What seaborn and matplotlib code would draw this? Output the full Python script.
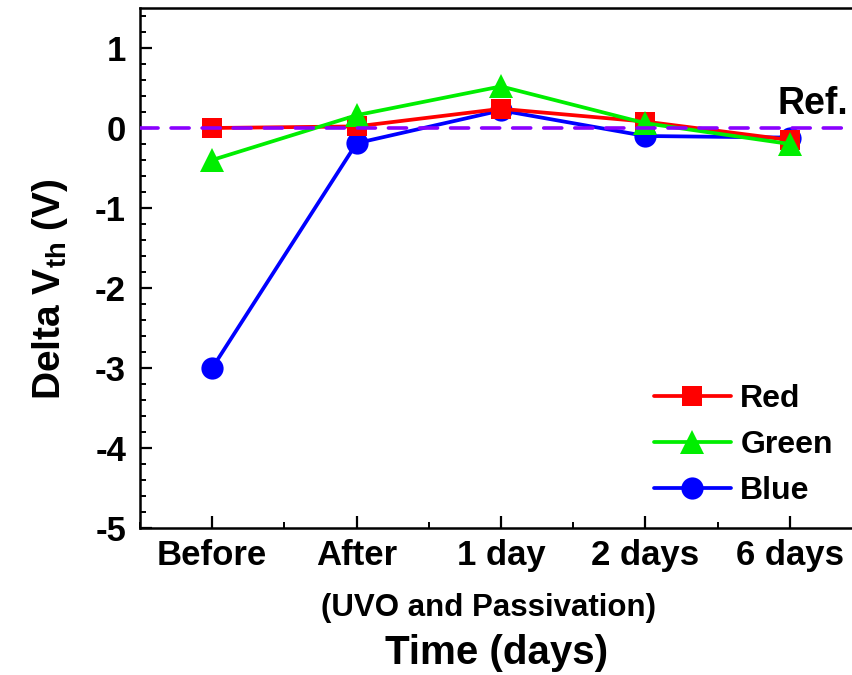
import matplotlib
matplotlib.use("Agg")
import matplotlib.pyplot as plt
import seaborn as sns
import pandas as pd
from matplotlib.ticker import MultipleLocator, AutoMinorLocator

categories = ["Before", "After", "1 day", "2 days", "6 days"]
red_vals = [0.0, 0.02, 0.24, 0.08, -0.15]
green_vals = [-0.40, 0.16, 0.52, 0.06, -0.20]
blue_vals = [-3.00, -0.19, 0.22, -0.10, -0.12]
series_names = ["Red", "Green", "Blue"]
ref_value = 0.0

sns.set_theme(style="ticks")
plt.rcParams["font.family"] = ["Liberation Sans", "DejaVu Sans"]
plt.rcParams["font.weight"] = "bold"
plt.rcParams["mathtext.fontset"] = "custom"
plt.rcParams["mathtext.rm"] = "Liberation Sans:bold"
plt.rcParams["mathtext.bf"] = "Liberation Sans:bold"
plt.rcParams["axes.unicode_minus"] = False
for k in ["text.color", "axes.labelcolor", "xtick.color", "ytick.color", "axes.edgecolor"]:
    plt.rcParams[k] = "black"

pos = list(range(1, len(categories) + 1))
df = pd.DataFrame({
    "x": pos * 3,
    "y": red_vals + green_vals + blue_vals,
    "series": [s for s in series_names for _ in pos],
})

fig = plt.figure(figsize=(8.52, 6.75), dpi=100)
ax = fig.add_axes([140 / 852, 1 - 528 / 675, 722 / 852, 520 / 675])

styles = {
    "Red": dict(color="#FF0000", marker="s", markersize=15, z=4),
    "Green": dict(color="#00EE00", marker="^", markersize=17, z=5),
    "Blue": dict(color="#0000FF", marker="o", markersize=16, z=3),
}
handles = {}
for name in ["Blue", "Red", "Green"]:
    st = styles[name]
    sub = df[df["series"] == name]
    sns.lineplot(data=sub, x="x", y="y", ax=ax, color=st["color"], marker=st["marker"],
                 markersize=st["markersize"], markeredgewidth=0, linewidth=2.7,
                 zorder=st["z"], label=name, legend=False)
    handles[name] = ax.lines[-1]

ax.axhline(ref_value, color="#8A00FF", linewidth=2.6, dashes=(5, 3.6),
           dash_capstyle="round", zorder=10)
ax.text(5.16, 0.07, "Ref.", fontsize=27, fontweight="bold", ha="center", va="bottom",
        clip_on=False)

ax.set_xlim(0.5, 5.5)
ax.set_ylim(-5, 1.5)
ax.set_xticks(pos)
ax.set_xticklabels(categories)
ax.xaxis.set_minor_locator(AutoMinorLocator(2))
ax.yaxis.set_major_locator(MultipleLocator(1))
ax.yaxis.set_minor_locator(MultipleLocator(0.2))
ax.tick_params(axis="both", which="major", direction="in", length=8.5, width=1.6,
               labelsize=25, top=False, right=False)
ax.tick_params(axis="both", which="minor", direction="in", length=4.5, width=1.4,
               top=False, right=False)
ax.tick_params(axis="x", which="major", pad=8)
ax.tick_params(axis="y", which="major", pad=10)
for lab in ax.get_xticklabels() + ax.get_yticklabels():
    lab.set_fontweight("bold")
for sp in ax.spines.values():
    sp.set_linewidth(1.8)
    sp.set_color("black")
ax.set_xlabel("")
ax.set_ylabel("")

fig.text(50 / 852, 1 - 289 / 675, r"Delta V$_{\mathrm{th}}$ (V)", rotation=90,
         fontsize=28, fontweight="bold", ha="center", va="center")
fig.text(488 / 852, 1 - 608 / 675, "(UVO and Passivation)", fontsize=22.5,
         fontweight="bold", ha="center", va="center")
fig.text(497 / 852, 1 - 653 / 675, "Time (days)", fontsize=29,
         fontweight="bold", ha="center", va="center")

leg = ax.legend([handles[n] for n in series_names], series_names, loc="lower right",
                bbox_to_anchor=((852 - 140) / 722, 0.005), frameon=False,
                fontsize=23, handlelength=2.4, markerscale=1.0, labelspacing=0.5,
                handletextpad=0.3, borderaxespad=0.2)
for t in leg.get_texts():
    t.set_fontweight("bold")

fig.savefig("out.png", dpi=100)
